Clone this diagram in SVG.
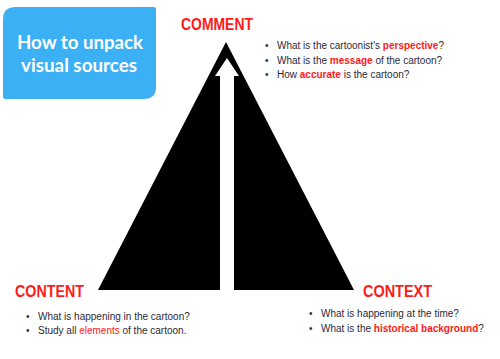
<svg xmlns="http://www.w3.org/2000/svg" width="500" height="359" viewBox="0 0 500 359">
<style>
.head{font-family:"Liberation Sans",Arial,sans-serif;font-weight:bold;font-size:17px;fill:#ff1a1a}
.b{font-family:"Liberation Sans",Arial,sans-serif;font-size:10px;fill:#2a2a3a}
.r{fill:#ff1a1a;font-weight:bold}
.rn{fill:#ff1a1a}
.title{font-family:"Lato","Open Sans",sans-serif;font-weight:bold;font-size:19px;fill:#ffffff}
</style>
<rect width="500" height="359" fill="#ffffff"/>
<g id="title-box">
<path d="M16,7 H154 Q156,7 156,9 V87 Q156,99 144,99 H5 Q3,99 3,97 V19 Q3,7 16,7 Z" fill="#3bb0f5"/>
<text class="title" x="17" y="49" textLength="126" lengthAdjust="spacingAndGlyphs">How to unpack</text>
<text class="title" x="21" y="72" textLength="116" lengthAdjust="spacingAndGlyphs">visual sources</text>
</g>
<g id="triangle">
<polygon points="226,42 354,290 98,290" fill="#000000"/>
<polygon points="227,58 239,76 234,76 234,290 220,290 220,76 215,76" fill="#ffffff"/>
</g>
<g id="comment">
<text class="head" x="181" y="30" textLength="72" lengthAdjust="spacingAndGlyphs">COMMENT</text>
<text class="b" x="265" y="49">•</text>
<text class="b" x="277" y="49">What is the cartoonist's <tspan class="r">perspective</tspan>?</text>
<text class="b" x="265" y="64">•</text>
<text class="b" x="277" y="64">What is the <tspan class="r">message</tspan> of the cartoon?</text>
<text class="b" x="265" y="78">•</text>
<text class="b" x="277" y="78">How <tspan class="r">accurate</tspan> is the cartoon?</text>
</g>
<g id="content">
<text class="head" x="15" y="297" textLength="69" lengthAdjust="spacingAndGlyphs">CONTENT</text>
<text class="b" x="26" y="320">•</text>
<text class="b" x="38" y="320">What is happening in the cartoon?</text>
<text class="b" x="26" y="334">•</text>
<text class="b" x="38" y="334">Study all <tspan class="rn">elements</tspan> of the cartoon.</text>
</g>
<g id="context">
<text class="head" x="363" y="297" textLength="69" lengthAdjust="spacingAndGlyphs">CONTEXT</text>
<text class="b" x="309" y="317">•</text>
<text class="b" x="321" y="317">What is happening at the time?</text>
<text class="b" x="309" y="332">•</text>
<text class="b" x="321" y="332">What is the <tspan class="r">historical background</tspan>?</text>
</g>
</svg>
